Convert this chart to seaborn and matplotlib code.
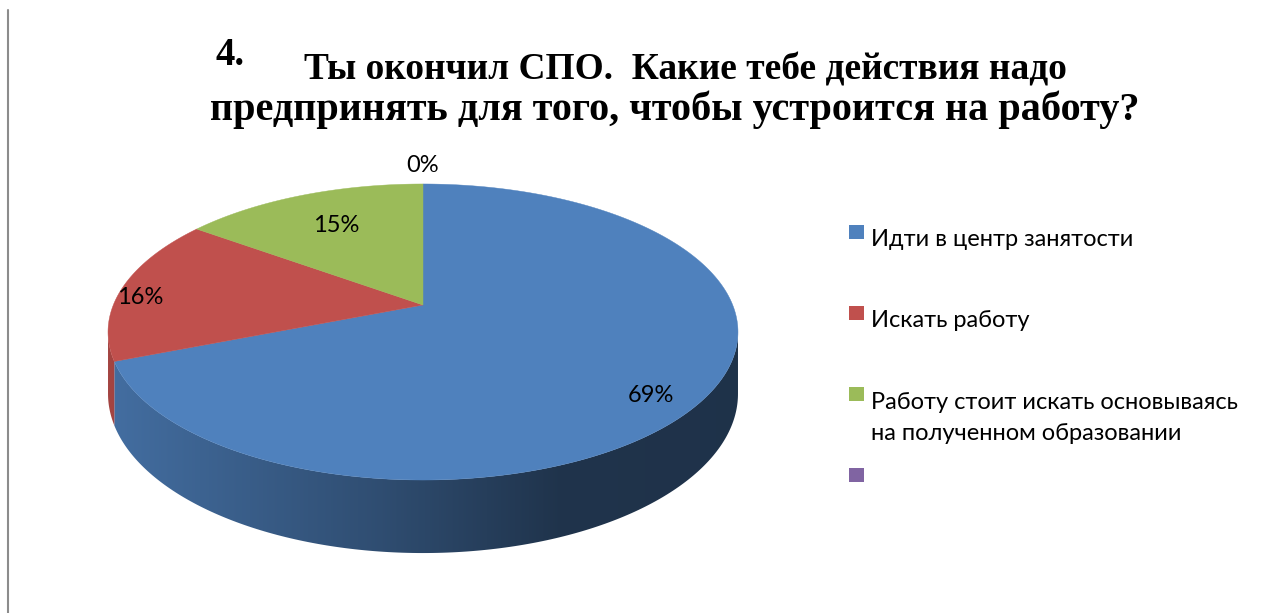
import numpy as np
import matplotlib
matplotlib.use("Agg")
import matplotlib.pyplot as plt
import seaborn as sns
from matplotlib.patches import Polygon, Rectangle

sns.set_theme(style="white")
plt.rcParams['font.family'] = ['Lato', 'DejaVu Sans']

labels = ['Идти в центр занятости', 'Искать работу',
          'Работу стоит искать основываясь\nна полученном образовании', '']
values = [69, 16, 15, 0]
colors = ['#4F81BD', '#C0504D', '#9BBB59', '#8064A2']

# label placement (radius, angle tweak) in the flat pie
pct_dist = [0.87, 0.925, 0.69, 1.19]
pct_turn = [-6.5, 3.7, 0, 0]

W, H = 1269, 613
fig = plt.figure(figsize=(W / 100, H / 100), dpi=100)
fig.patch.set_facecolor('white')
ax = fig.add_axes([0, 0, 1, 1])

wedges, _ = ax.pie(values, colors=colors, startangle=90, counterclock=False,
                   wedgeprops=dict(linewidth=0))

# perspective view of the flat pie (pixel coordinates)
CX, VY, R, S, K = 423, 305, 309.7, 143.1, 0.1824
DEP = 59.7


def proj(x, y):
    d = 1 + K * y
    return CX + R * x / d, VY - S * y / d


t_vis = np.degrees(np.arcsin(K))
lo_vis, hi_vis = -180 + t_vis, -t_vis
xs = np.linspace(100, 745, 400)
shade = np.interp(xs, [100, 380, 560, 745], [0.86, 0.60, 0.40, 0.39])

for w, c in zip(wedges, colors):
    t1, t2 = w.theta1, w.theta2
    w.remove()
    if t2 - t1 <= 0:
        continue
    # side
    for s in (-360, 0, 360):
        lo, hi = max(t1 + s, lo_vis), min(t2 + s, hi_vis)
        if hi <= lo:
            continue
        th = np.radians(np.linspace(lo, hi, 200))
        tx, ty = proj(np.cos(th), np.sin(th))
        by = ty + DEP / (1 + K * np.sin(th))
        pts = np.vstack([np.column_stack([tx, ty]),
                         np.column_stack([tx[::-1], by[::-1]])])
        poly = Polygon(pts, closed=True, facecolor='none', edgecolor='none')
        ax.add_patch(poly)
        base = np.array(matplotlib.colors.to_rgb(c))
        img = np.clip(base[None, :] * shade[:, None], 0, 1)[None, :, :]
        im = ax.imshow(img, extent=(100, 745, 570, 320), aspect='auto',
                       interpolation='bilinear', zorder=2)
        im.set_clip_path(poly)
    # top face
    th = np.radians(np.linspace(t1, t2, 300))
    fx, fy = proj(np.append(0, np.cos(th)), np.append(0, np.sin(th)))
    ax.add_patch(Polygon(np.column_stack([fx, fy]), closed=True, facecolor=c,
                         edgecolor=c, linewidth=0.3, zorder=3))

for w, v, d, tw in zip(wedges, values, pct_dist, pct_turn):
    a = np.radians((w.theta1 + w.theta2) / 2 + tw)
    lx, ly = proj(d * np.cos(a), d * np.sin(a))
    ax.text(lx, ly, f"{v:.0f}%", ha='center', va='center', fontsize=17,
            color='black', zorder=5)

ax.set_aspect('auto')
ax.set_xlim(0, W)
ax.set_ylim(H, 0)
ax.axis('off')

# legend
for i, (lab, c) in enumerate(zip(labels, colors)):
    top = 225 + 81 * i
    ax.add_patch(Rectangle((849, top), 15, 14, facecolor=c, edgecolor='none'))
    ax.text(871, top + 21 + 32 * lab.count('\n'), lab, ha='left',
            va='baseline', fontsize=17, linespacing=1.6, color='black')

# title
tfont = dict(family='Liberation Serif', weight='bold', color='black')
ax.text(216, 65, '4.', ha='left', va='baseline', fontsize=28, **tfont)
ax.text(685, 79, 'Ты окончил СПО.  Какие тебе действия надо',
        ha='center', va='baseline', fontsize=26.9, **tfont)
ax.text(675, 120, 'предпринять для того, чтобы устроится на работу?',
        ha='center', va='baseline', fontsize=29, **tfont)

# left border line
ax.plot([8, 8], [10, H], color='#8c8c8c', linewidth=1.5)

fig.savefig('out.png', dpi=100, facecolor='white')
